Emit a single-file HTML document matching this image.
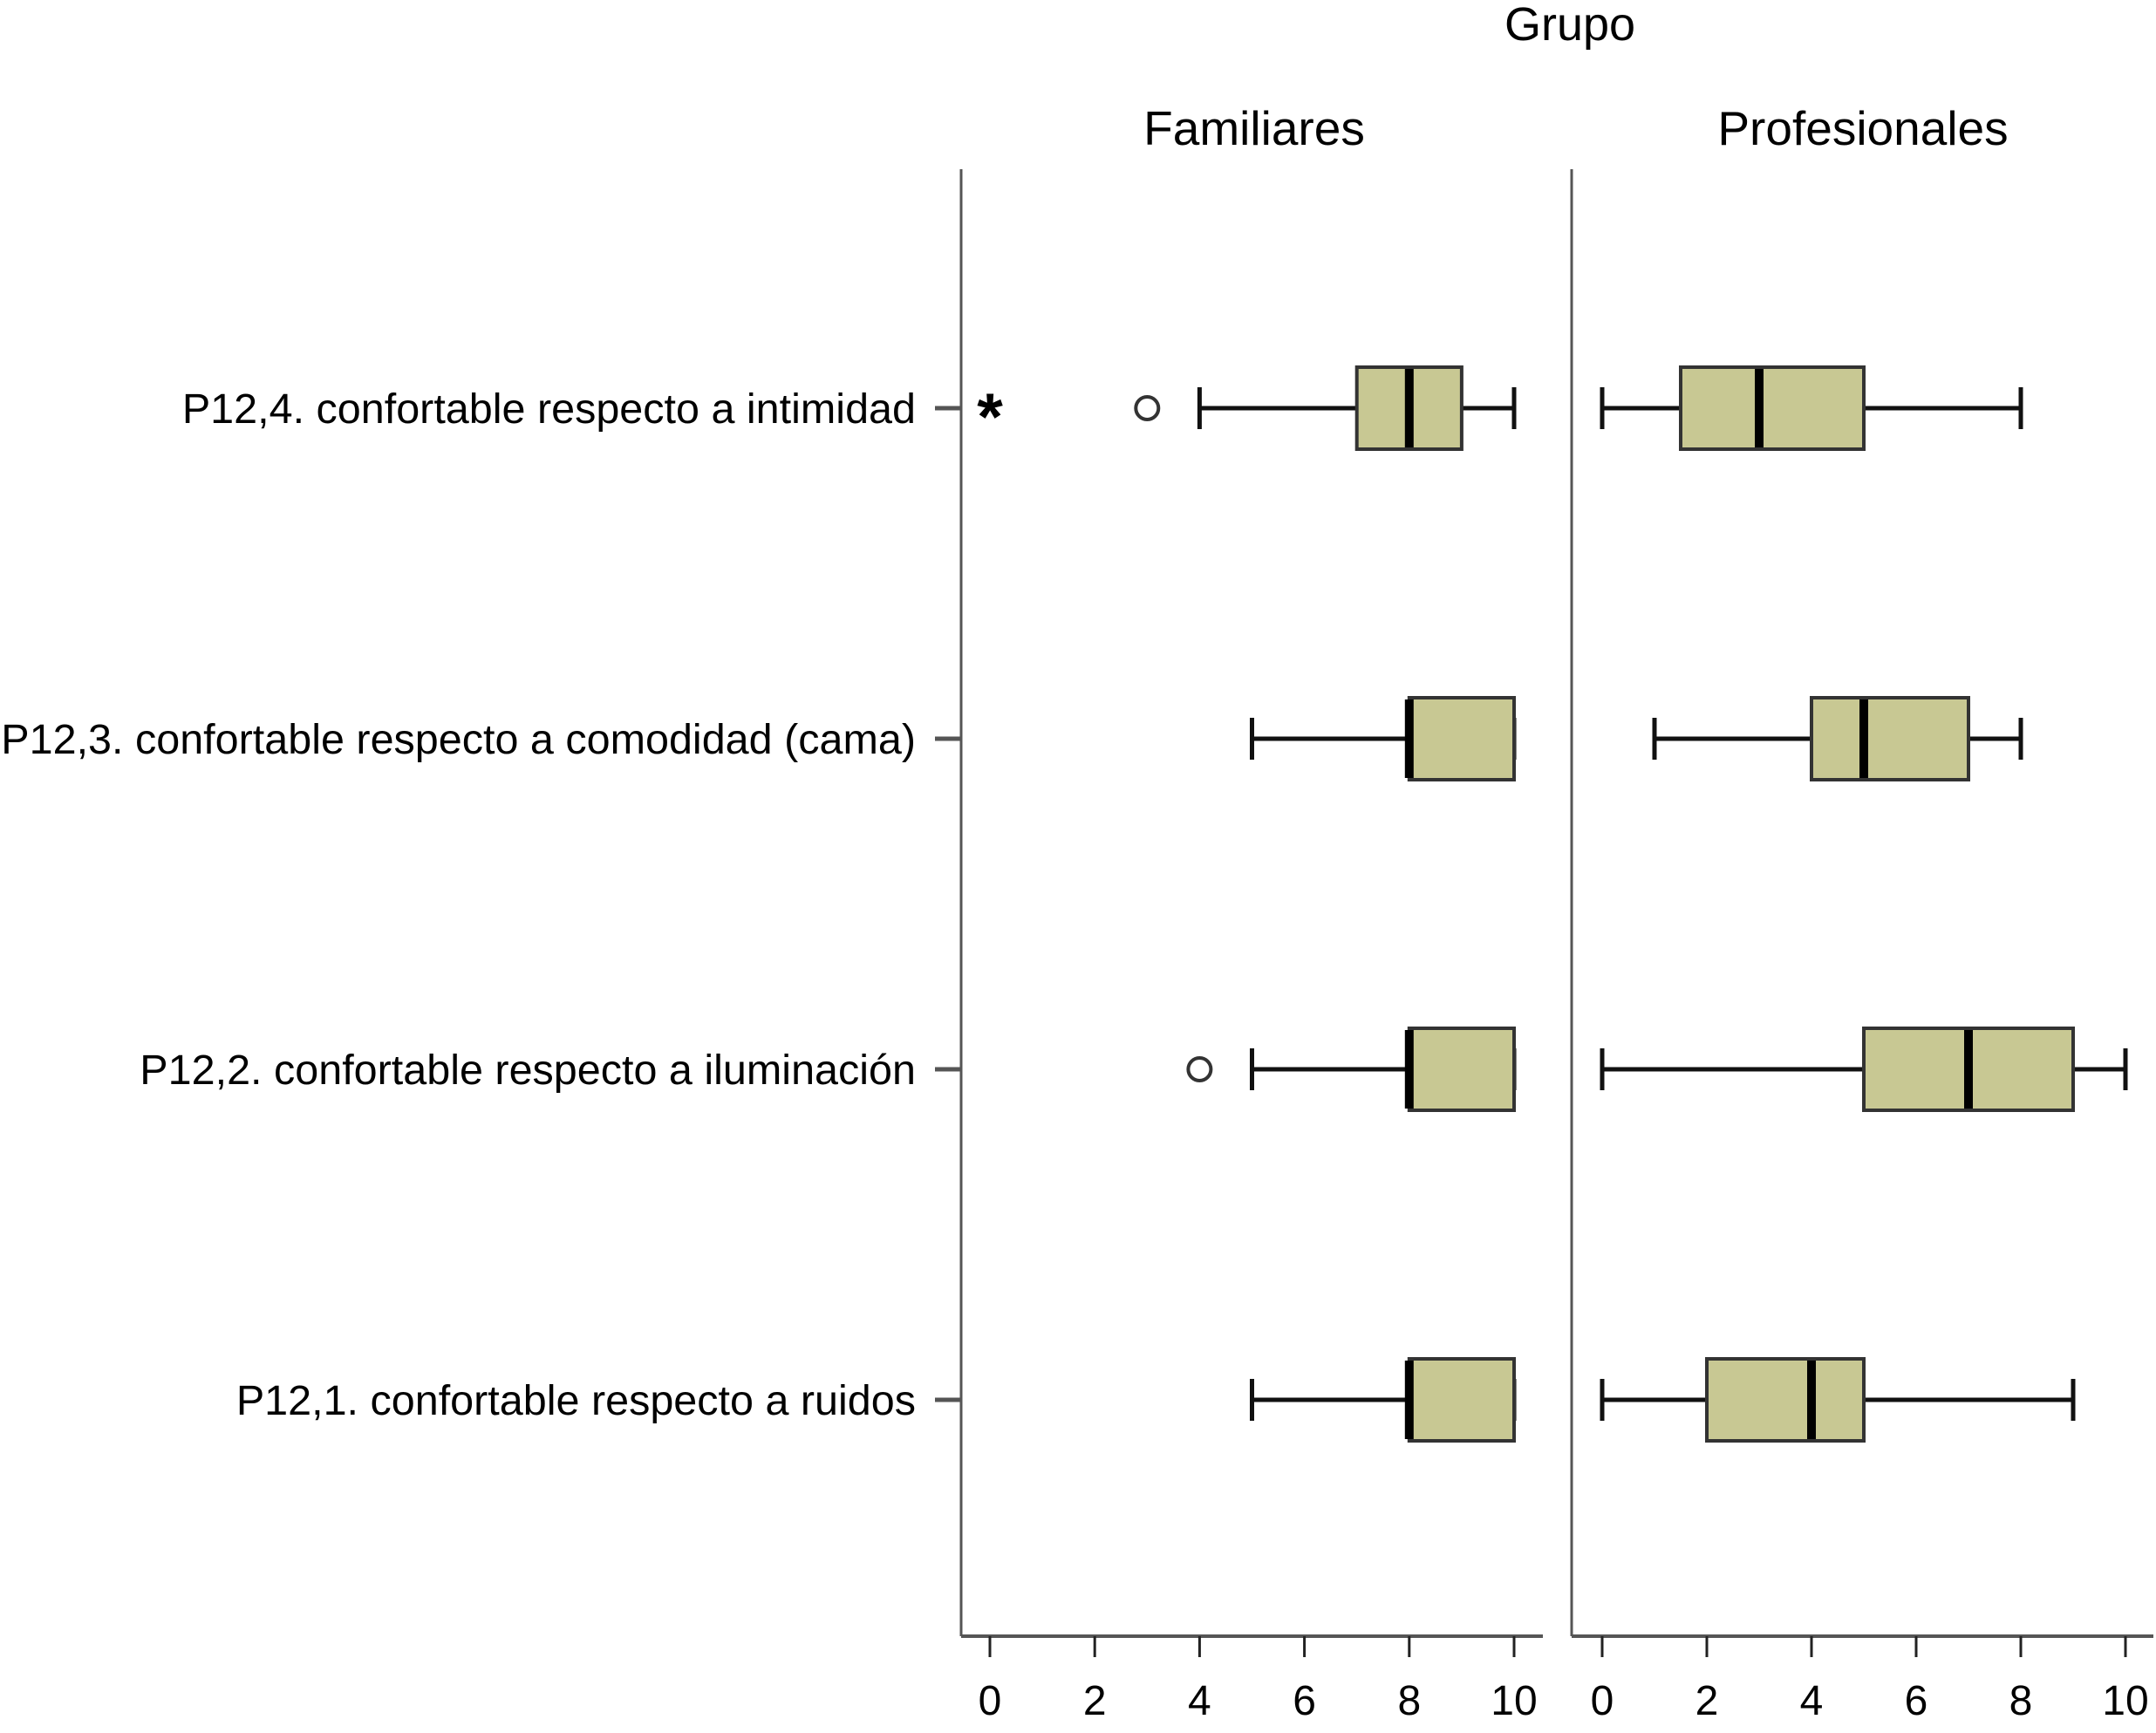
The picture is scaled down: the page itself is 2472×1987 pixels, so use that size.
<!DOCTYPE html>
<html><head><meta charset="utf-8"><style>
html,body{margin:0;padding:0;background:#fff;}
svg{display:block;font-family:"Liberation Sans",sans-serif;}
</style></head><body>
<svg id="chart" width="2472" height="1987" viewBox="0 0 2472 1987" xmlns="http://www.w3.org/2000/svg">
<text x="1800" y="46" font-size="54" text-anchor="middle">Grupo</text>
<text x="1438" y="166" font-size="55" text-anchor="middle">Familiares</text>
<text x="2136" y="166" font-size="55" text-anchor="middle">Profesionales</text>
<g id="plot"></g>
</svg>
<script>
const categories = ["P12,4. confortable respecto a intimidad","P12,3. confortable respecto a comodidad (cama)","P12,2. confortable respecto a iluminación","P12,1. confortable respecto a ruidos"];
const tickValues = [0,2,4,6,8,10];
// [min, q1, median, q3, max]
const familiaresStats = [[4,7,8,9,10],[5,8,8,10,10],[5,8,8,10,10],[5,8,8,10,10]];
const profesionalesStats = [[0,1.5,3,5,8],[1,4,5,7,8],[0,5,7,9,10],[0,2,4,5,9]];
const familiaresOutliers = [[3],[],[4],[]];
const familiaresExtremes = [[0],[],[],[]];
const profesionalesOutliers = [[],[],[],[]];

const NS="http://www.w3.org/2000/svg";
const g=document.getElementById('plot');
function mk(tag,attrs,parent){const e=document.createElementNS(NS,tag);for(const k in attrs)e.setAttribute(k,attrs[k]);(parent||g).appendChild(e);return e;}
const rowY=i=>468+i*379;
const panels=[
 {name:'familiares',x0:1135,x10:1736,axisX:1102,axisEnd:1769,stats:familiaresStats,out:familiaresOutliers,ext:familiaresExtremes},
 {name:'profesionales',x0:1837,x10:2437,axisX:1802,axisEnd:2469,stats:profesionalesStats,out:profesionalesOutliers,ext:[[],[],[],[]]}
];
const baseY=1876;
panels.forEach(p=>{
 const sx=v=>p.x0+(p.x10-p.x0)*v/10;
 let e=mk('line',{x1:p.axisX,y1:194,x2:p.axisX,y2:baseY,stroke:'#555','stroke-width':3});
 
 
 e=mk('line',{x1:p.axisX,y1:baseY,x2:p.axisEnd,y2:baseY,stroke:'#555','stroke-width':4});
 
 
 tickValues.forEach(t=>{
  let tk=mk('line',{x1:sx(t),y1:baseY,x2:sx(t),y2:1900,stroke:'#222','stroke-width':3});
  
  
  let tl=mk('text',{x:sx(t),y:1966,'font-size':48,'text-anchor':'middle'});
  tl.textContent=t;
  
  
 });
 p.stats.forEach((s,i)=>{
  const y=rowY(i);
  const bg=mk('g',{});
  
  
  mk('line',{x1:sx(s[0]),y1:y,x2:sx(s[1]),y2:y,stroke:'#111','stroke-width':5},bg);
  mk('line',{x1:sx(s[3]),y1:y,x2:sx(s[4]),y2:y,stroke:'#111','stroke-width':5},bg);
  mk('line',{x1:sx(s[0]),y1:y-24,x2:sx(s[0]),y2:y+24,stroke:'#111','stroke-width':5},bg);
  mk('line',{x1:sx(s[4]),y1:y-24,x2:sx(s[4]),y2:y+24,stroke:'#111','stroke-width':5},bg);
  mk('rect',{x:sx(s[1]),y:y-47,width:sx(s[3])-sx(s[1]),height:94,fill:'#c8c893',stroke:'#333','stroke-width':4},bg);
  mk('line',{x1:sx(s[2]),y1:y-45,x2:sx(s[2]),y2:y+45,stroke:'#000','stroke-width':10},bg);
  p.out[i].forEach(v=>{
   const c=mk('circle',{cx:sx(v),cy:y,r:13,fill:'none',stroke:'#333','stroke-width':4});
   
   
  });
  p.ext[i].forEach(v=>{
   const st=mk('text',{x:sx(v),y:y+36,'font-size':76,'text-anchor':'middle','font-weight':'bold'});
   st.textContent='*';
   
   
  });
 });
});
categories.forEach((c,i)=>{
 const y=rowY(i);
 let tk=mk('line',{x1:1072,y1:y,x2:1102,y2:y,stroke:'#555','stroke-width':5});
 
 
 let t=mk('text',{x:1050,y:y+17,'font-size':48.5,'text-anchor':'end'});
 t.textContent=c;
 
 
});
</script>
</body></html>
